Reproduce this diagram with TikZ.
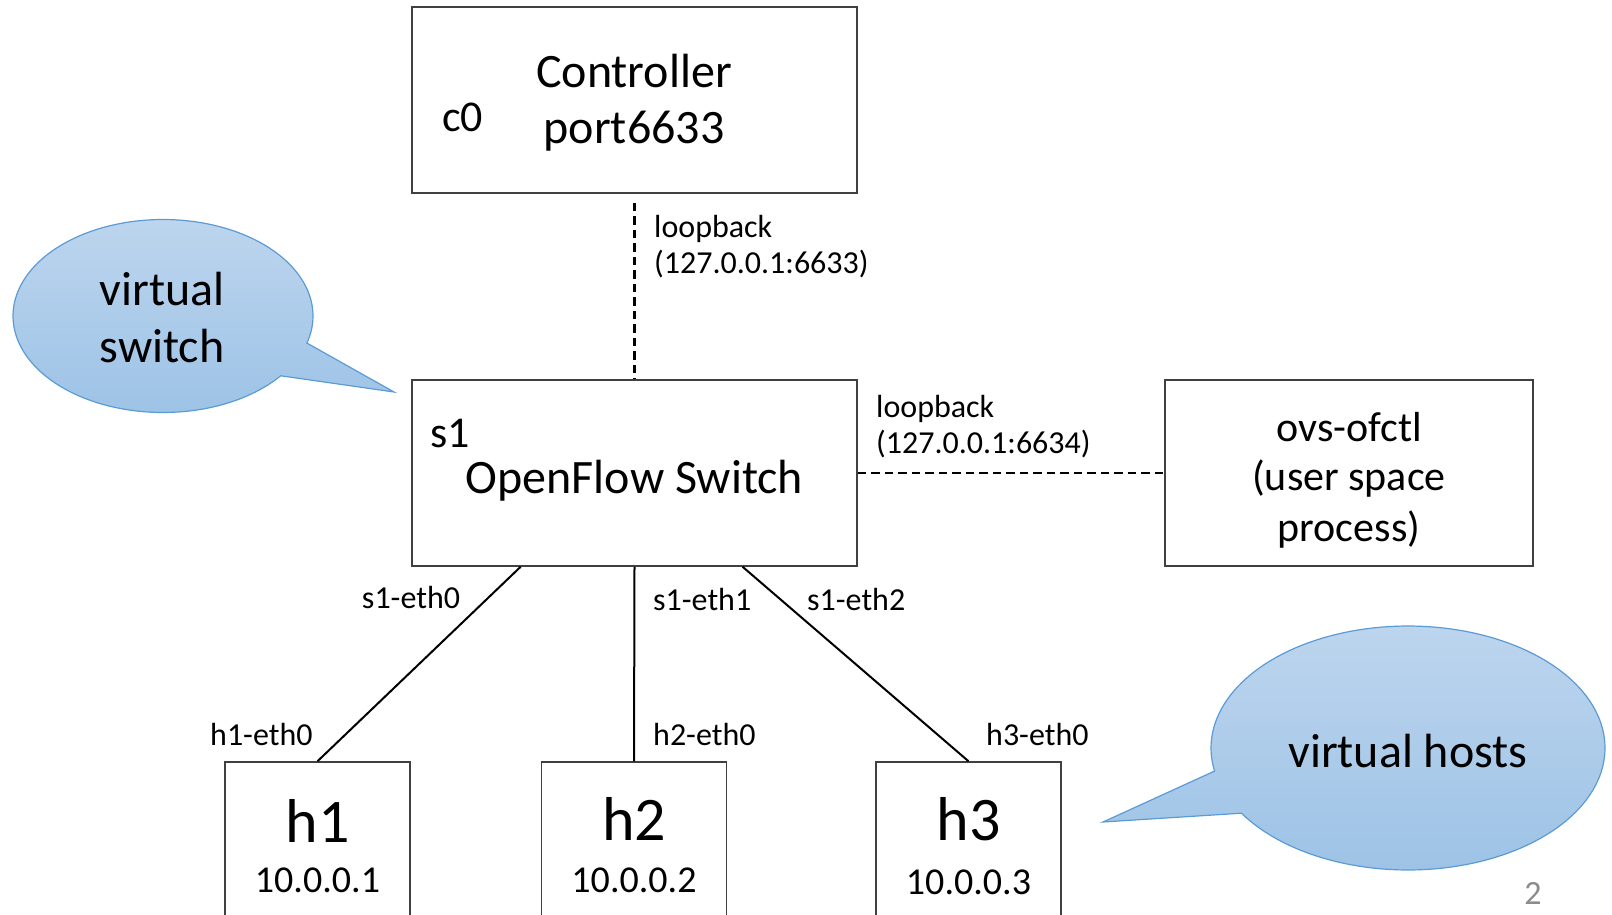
\documentclass[tikz,border=0pt]{standalone}
\usepackage{fontspec}
\setmainfont{Carlito}
\usetikzlibrary{calc}
\definecolor{boxline}{HTML}{404040}
\definecolor{bubtop}{HTML}{BDD5EE}
\definecolor{bubbot}{HTML}{9DC3E6}
\definecolor{bubline}{HTML}{5B9BD5}
\definecolor{pagegray}{HTML}{8C8C8C}
\newcommand\fsz[1]{\fontsize{#1}{#1}\selectfont}
\begin{document}
\begin{tikzpicture}[x=1pt,y=-1pt,
  box/.style={draw=boxline, line width=1.5pt, rectangle, inner sep=0pt},
  txt/.style={inner sep=0pt, text=black},
  lbl/.style={txt, font=\fsz{32}},
  link/.style={line width=2pt, draw=black},
  dlink/.style={line width=2.6pt, draw=black, dash pattern=on 8.5pt off 5pt},
  bubble/.style={draw=bubline, line width=1.2pt, top color=bubtop, bottom color=bubbot}]
\useasboundingbox (0,0) rectangle (1612,915);
\clip (0,0) rectangle (1612,915);

% bubbles
\draw[bubble] plot[domain=38.3:376.3, samples=150, variable=\t]
  ({163+150*cos(\t)},{316+96.5*sin(\t)}) -- (394,392) -- cycle;
\node[txt, font=\fsz{48}, anchor=base] (vs1) at (162,305) {virtual};
\node[txt, font=\fsz{48}, anchor=base] (vs2) at (162,362) {switch};

\draw[bubble] plot[domain=169.1:507.7, samples=150, variable=\t]
  ({1408+197*cos(\t)},{748+122*sin(\t)}) -- (1103,822) -- cycle;
\node[txt, font=\fsz{48}, anchor=base] (vh) at (1408,767) {virtual hosts};

% boxes
\node[box, minimum width=445pt, minimum height=186pt] (c0box) at (634.5,100) {};
\node[box, minimum width=445pt, minimum height=186pt] (s1box) at (634.5,473) {};
\node[box, minimum width=368pt, minimum height=186pt] (ovs) at (1349,473) {};
\node[box, minimum width=185pt, minimum height=198pt] (h1) at (317.5,861) {};
\node[box, minimum width=185pt, minimum height=198pt] (h2) at (634,861) {};
\node[box, minimum width=185pt, minimum height=198pt] (h3) at (968.5,861) {};

% box texts
\node[txt, font=\fsz{48}, anchor=base] (ctrl) at (634,88) {Controller};
\node[txt, font=\fsz{48}, anchor=base] (port) at (634,144) {port6633};
\node[txt, font=\fsz{44}, anchor=base west] (c0) at (442,132) {c0};
\node[txt, font=\fsz{44}, anchor=base west] (s1) at (430,447) {s1};
\node[txt, font=\fsz{48}, anchor=base] (ofs) at (634.5,493) {OpenFlow Switch};
\node[txt, font=\fsz{42}, anchor=base] (ovs1) at (1349,441) {ovs-ofctl};
\node[txt, font=\fsz{42}, anchor=base] (ovs2) at (1349,490) {(user space};
\node[txt, font=\fsz{42}, anchor=base] (ovs3) at (1349,541) {process)};
\node[txt, font=\fsz{62}, anchor=base] (h1n) at (317.5,842) {h1};
\node[txt, font=\fsz{38}, anchor=base] (h1ip) at (317.5,892) {10.0.0.1};
\node[txt, font=\fsz{62}, anchor=base] (h2n) at (634,840) {h2};
\node[txt, font=\fsz{38}, anchor=base] (h2ip) at (634,892) {10.0.0.2};
\node[txt, font=\fsz{62}, anchor=base] (h3n) at (968.5,840) {h3};
\node[txt, font=\fsz{38}, anchor=base] (h3ip) at (968.5,894) {10.0.0.3};

% connectors
\draw[dlink, shorten <=9pt] (c0box.south) -- (s1box.north);
\draw[dlink] (s1box.east) -- (ovs.west);
\draw[link] ($(s1box.south west)!0.245!(s1box.south east)$) -- (h1.north);
\draw[link] (s1box.south) -- (h2.north);
\draw[link] ($(s1box.south west)!0.742!(s1box.south east)$) -- (h3.north);

% connector labels
\node[lbl, anchor=base west] (lb1a) at (654,237) {loopback};
\node[lbl, anchor=base west] (lb1b) at (654,273) {(127.0.0.1:6633)};
\node[lbl, anchor=base west] (lb2a) at (876,417) {loopback};
\node[lbl, anchor=base west] (lb2b) at (876,453) {(127.0.0.1:6634)};
\node[lbl, anchor=base] (e0) at (411,608) {s1-eth0};
\node[lbl, anchor=base west] (e1) at (653,610) {s1-eth1};
\node[lbl, anchor=base west] (e2) at (807,610) {s1-eth2};
\node[lbl, anchor=base west] (he1) at (210,745) {h1-eth0};
\node[lbl, anchor=base west] (he2) at (653,745) {h2-eth0};
\node[lbl, anchor=base west] (he3) at (986,745) {h3-eth0};

% page number
\node[txt, font=\fsz{34}, text=pagegray, anchor=base] (pg) at (1533,904) {2};
\end{tikzpicture}
\end{document}
